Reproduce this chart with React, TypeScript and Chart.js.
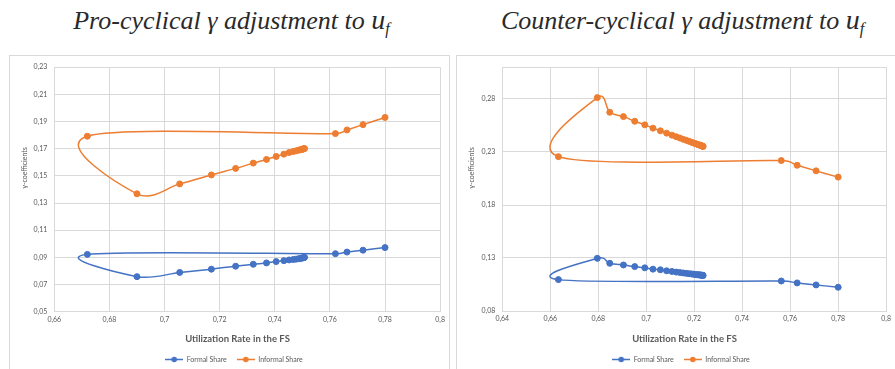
import React, { useEffect, useRef } from 'react';
import { Chart, registerables } from 'chart.js';
Chart.register(...registerables);

// ---------- data ----------
const seriesLabels = ['Formal Share', 'Informal Share'];
const xAxisTitle = 'Utilization Rate in the FS';
const yAxisTitle = 'γ-coefficients';

const proUtilization = [0.780, 0.772, 0.7662, 0.762, 0.672, 0.690, 0.7055, 0.717, 0.7258, 0.7322, 0.737, 0.7405, 0.7433, 0.7452, 0.7467, 0.7477, 0.7486, 0.7492, 0.7497, 0.7500, 0.7503, 0.7505, 0.7506, 0.7508];
const proFormal = [0.0972, 0.0953, 0.0939, 0.0927, 0.0922, 0.0758, 0.0789, 0.0813, 0.0835, 0.0849, 0.0859, 0.0869, 0.0876, 0.0881, 0.0884, 0.0887, 0.0890, 0.0892, 0.0894, 0.0896, 0.0897, 0.0898, 0.0899, 0.0900];
const proInformal = [0.193, 0.1877, 0.1838, 0.1811, 0.1792, 0.1368, 0.1441, 0.1507, 0.1555, 0.1594, 0.1621, 0.1643, 0.1660, 0.1672, 0.1679, 0.1684, 0.1689, 0.1692, 0.1694, 0.1696, 0.1698, 0.1699, 0.1700, 0.1701];
const proXTicks = [0.66, 0.68, 0.70, 0.72, 0.74, 0.76, 0.78, 0.80];
const proYTicks = [0.05, 0.07, 0.09, 0.11, 0.13, 0.15, 0.17, 0.19, 0.21, 0.23];
const proYMax = 0.23;

const counterUtilization = [0.780, 0.7708, 0.7629, 0.7563, 0.6634, 0.6796, 0.6848, 0.6905, 0.6952, 0.6994, 0.7028, 0.7059, 0.7085, 0.7107, 0.7125, 0.7140, 0.7154, 0.7167, 0.7178, 0.7188, 0.7196, 0.7203, 0.7210, 0.7215, 0.7219, 0.7224, 0.7226, 0.7229, 0.7232, 0.7233, 0.7235, 0.7236, 0.7237];
const counterFormal = [0.1024, 0.1046, 0.1065, 0.1083, 0.1096, 0.1297, 0.1250, 0.1234, 0.1219, 0.1207, 0.1195, 0.1189, 0.1179, 0.1173, 0.1167, 0.1163, 0.1159, 0.1155, 0.1152, 0.1150, 0.1147, 0.1145, 0.1143, 0.1142, 0.1141, 0.1140, 0.1139, 0.1138, 0.1137, 0.1137, 0.1136, 0.1136, 0.1136];
const counterInformal = [0.2063, 0.2122, 0.2175, 0.2219, 0.2256, 0.2813, 0.2675, 0.2634, 0.2590, 0.2556, 0.2525, 0.2500, 0.2478, 0.2459, 0.2444, 0.2432, 0.2420, 0.2410, 0.2401, 0.2393, 0.2386, 0.2381, 0.2375, 0.2371, 0.2368, 0.2364, 0.2362, 0.2360, 0.2357, 0.2356, 0.2355, 0.2354, 0.2353];
const counterXTicks = [0.64, 0.66, 0.68, 0.70, 0.72, 0.74, 0.76, 0.78, 0.80];
const counterYTicks = [0.08, 0.13, 0.18, 0.23, 0.28];
const counterYMax = 0.31;

// ---------- styling ----------
const BLUE = '#4472C4';
const ORANGE = '#ED7D31';
const GRID = '#d9d9d9';
const TEXT = '#595959';
const FONT = 'Lato, "Open Sans", sans-serif';

const fmtX = (v: number) => String(Number(v.toFixed(2))).replace('.', ',');
const fmtY = (v: number) => v.toFixed(2).replace('.', ',');
const inList = (list: number[], v: number) => list.some((t) => Math.abs(t - v) < 1e-6);

function legendIcon(color: string) {
  const c = document.createElement('canvas');
  c.width = 18;
  c.height = 7;
  const ctx = c.getContext('2d')!;
  ctx.strokeStyle = color;
  ctx.lineWidth = 1.5;
  ctx.beginPath();
  ctx.moveTo(0, 3.5);
  ctx.lineTo(18, 3.5);
  ctx.stroke();
  ctx.fillStyle = color;
  ctx.beginPath();
  ctx.arc(9, 3.5, 2.8, 0, Math.PI * 2);
  ctx.fill();
  return c;
}

// Excel-like smoothing: uniform Catmull-Rom control points (1/6 of neighbour chord) in pixel space,
// with each handle limited relative to the length of the segment it belongs to.
const excelSmoothPlugin = {
  id: 'excelSmooth',
  beforeDatasetsDraw(chart: any) {
    chart.data.datasets.forEach((_d: any, i: number) => {
      const meta = chart.getDatasetMeta(i);
      const line = meta.dataset;
      if (!line) return;
      if (typeof line.updateControlPoints === 'function') line.updateControlPoints(chart.chartArea, meta.indexAxis);
      const pts = meta.data;
      const n = pts.length;
      const CAP = 0.7;
      for (let k = 0; k < n; k++) {
        const cur = pts[k];
        const prev = pts[Math.max(0, k - 1)];
        const next = pts[Math.min(n - 1, k + 1)];
        const tx = (next.x - prev.x) / 6;
        const ty = (next.y - prev.y) / 6;
        const tl = Math.hypot(tx, ty) || 1;
        const lPrev = Math.hypot(cur.x - prev.x, cur.y - prev.y);
        const lNext = Math.hypot(next.x - cur.x, next.y - cur.y);
        const s1 = Math.min(1, (CAP * lPrev) / tl);
        const s2 = Math.min(1, (CAP * lNext) / tl);
        cur.cp1x = cur.x - tx * s1;
        cur.cp1y = cur.y - ty * s1;
        cur.cp2x = cur.x + tx * s2;
        cur.cp2y = cur.y + ty * s2;
      }
      line._pointsUpdated = true;
      line._path = undefined;
    });
  },
};

const axisTitlePlugin = {
  id: 'axisTitles',
  afterDraw(chart: any, _args: any, opts: any) {
    const { ctx } = chart;
    ctx.save();
    ctx.fillStyle = TEXT;
    ctx.textAlign = 'center';
    ctx.textBaseline = 'middle';
    ctx.font = `bold 9.5px ${FONT}`;
    ctx.fillText(opts.xText, opts.xPos[0], opts.xPos[1]);
    ctx.font = `7px ${FONT}`;
    ctx.translate(opts.yPos[0], opts.yPos[1]);
    ctx.rotate(-Math.PI / 2);
    ctx.fillText(opts.yText, 0, 0);
    ctx.restore();
  },
};

type PanelProps = {
  xs: number[];
  formal: number[];
  informal: number[];
  xTicks: number[];
  yTicks: number[];
  yMax: number;
  width: number;
  height: number;
  padLeft: number;
  padRight: number;
  padTop: number;
  yWidth: number;
  xHeight: number;
};

function Panel(p: PanelProps) {
  const ref = useRef<HTMLCanvasElement>(null);
  useEffect(() => {
    const mk = (ys: number[]) => p.xs.map((x, i) => ({ x, y: ys[i] }));
    const icons = [legendIcon(BLUE), legendIcon(ORANGE)];
    const chart = new Chart(ref.current!, {
      type: 'scatter',
      data: {
        datasets: [
          { label: seriesLabels[0], data: mk(p.formal), borderColor: BLUE, backgroundColor: BLUE },
          { label: seriesLabels[1], data: mk(p.informal), borderColor: ORANGE, backgroundColor: ORANGE },
        ].map((d) => ({
          ...d,
          showLine: true,
          tension: 0.4,
          borderWidth: 1.5,
          pointRadius: 3,
          pointBorderWidth: 1,
          pointBackgroundColor: d.borderColor,
          pointHoverRadius: 3,
        })),
      },
      options: {
        responsive: false,
        animation: false,
        devicePixelRatio: 1,
        layout: { padding: { left: p.padLeft, right: p.padRight, top: p.padTop, bottom: 0 } },
        scales: {
          x: {
            type: 'linear',
            min: p.xTicks[0],
            max: p.xTicks[p.xTicks.length - 1],
            afterBuildTicks: (s: any) => {
              s.ticks = p.xTicks.map((value) => ({ value }));
            },
            afterFit: (s: any) => {
              s.height = p.xHeight;
            },
            grid: { color: GRID, drawTicks: false, lineWidth: 1 },
            border: { color: GRID },
            ticks: {
              padding: 4,
              color: TEXT,
              font: { size: 7, family: FONT },
              maxRotation: 0,
              autoSkip: false,
              callback: (v: any) => (inList(p.xTicks, v) ? fmtX(v) : ''),
            },
          },
          y: {
            type: 'linear',
            min: p.yTicks[0],
            max: p.yMax,
            afterBuildTicks: (s: any) => {
              const vals = inList(p.yTicks, p.yMax) ? p.yTicks : [...p.yTicks, p.yMax];
              s.ticks = vals.map((value) => ({ value }));
            },
            afterFit: (s: any) => {
              s.width = p.yWidth;
            },
            grid: { color: GRID, drawTicks: false, lineWidth: 1 },
            border: { color: GRID },
            ticks: {
              padding: 7,
              color: TEXT,
              font: { size: 7, family: FONT },
              autoSkip: false,
              callback: (v: any) => (inList(p.yTicks, v) ? fmtY(v) : ''),
            },
          },
        },
        plugins: {
          tooltip: { enabled: false },
          legend: {
            position: 'bottom',
            labels: {
              usePointStyle: true,
              pointStyleWidth: 18,
              padding: 10,
              color: TEXT,
              font: { size: 7, family: FONT },
              generateLabels: (c: any) => {
                const items = (Chart as any).defaults.plugins.legend.labels.generateLabels(c);
                return items.map((it: any, i: number) => ({ ...it, pointStyle: icons[i] }));
              },
            },
          },
          axisTitles: {
            xText: xAxisTitle,
            yText: yAxisTitle,
            xPos: [227.5, 283],
            yPos: [15, 112],
          },
        } as any,
      },
      plugins: [excelSmoothPlugin, axisTitlePlugin],
    } as any);
    return () => chart.destroy();
  }, []);
  return <canvas ref={ref} width={p.width} height={p.height} style={{ display: 'block' }} />;
}

const titleStyle: React.CSSProperties = {
  position: 'absolute',
  top: 3.2,
  width: 460,
  textAlign: 'center',
  fontFamily: '"Liberation Serif", "Times New Roman", serif',
  fontStyle: 'italic',
  fontSize: 26,
  lineHeight: '34px',
  color: '#2a2a2a',
  whiteSpace: 'nowrap',
};

function Title({ text, center }: { text: string; center: number }) {
  return (
    <div style={{ ...titleStyle, left: center - 230 }}>
      {text}
      <span style={{ fontSize: 28 }}>u</span>
      <sub style={{ fontSize: 16, verticalAlign: '-5px' }}>f</sub>
    </div>
  );
}

export default function App() {
  return (
    <div style={{ position: 'absolute', left: 0, top: 0, width: 895, height: 369, overflow: 'hidden', background: '#fff' }}>
      <Title text="Pro-cyclical γ adjustment to " center={231.5} />
      <Title text="Counter-cyclical γ adjustment to " center={682.5} />
      <div style={{ position: 'absolute', left: 9, top: 55, width: 441, height: 340, border: `1px solid ${GRID}`, boxSizing: 'border-box' }} />
      <div style={{ position: 'absolute', left: 456, top: 55, width: 460, height: 340, border: `1px solid ${GRID}`, boxSizing: 'border-box' }} />
      <div style={{ position: 'absolute', left: 10, top: 56 }}>
        <Panel xs={proUtilization} formal={proFormal} informal={proInformal} xTicks={proXTicks} yTicks={proYTicks} yMax={proYMax}
          width={439} height={317} padLeft={17} padRight={8} padTop={8.7} yWidth={27.3} xHeight={34.3} />
      </div>
      <div style={{ position: 'absolute', left: 457, top: 56 }}>
        <Panel xs={counterUtilization} formal={counterFormal} informal={counterInformal} xTicks={counterXTicks} yTicks={counterYTicks} yMax={counterYMax}
          width={438} height={317} padLeft={17.3} padRight={7.3} padTop={8.7} yWidth={28} xHeight={35} />
      </div>
    </div>
  );
}
